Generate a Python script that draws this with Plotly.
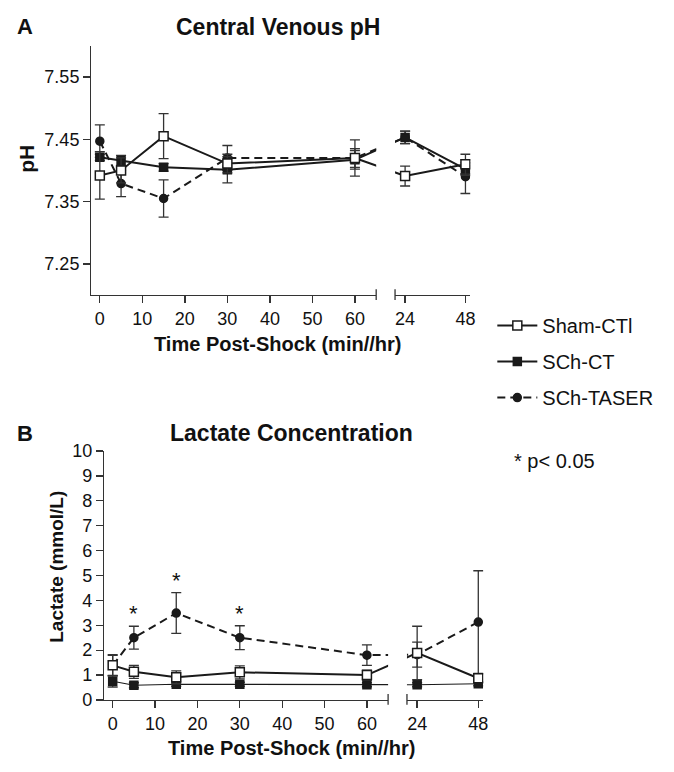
import plotly.graph_objects as go

W, H = 674, 772

# ---------------- data ----------------
min_t = [0, 5, 15, 30, 60]
hr_t = [24, 48]
min_ticks = [0, 10, 20, 30, 40, 50, 60]
hr_ticks = [24, 48]

series_names = ["Sham-CTl", "SCh-CT", "SCh-TASER"]

# Panel A: central venous pH (0,5,15,30,60 min, 24,48 hr)
sham_ph = [7.392, 7.400, 7.455, 7.411, 7.420, 7.391, 7.410]
sham_ph_err = [0.038, 0.020, 0.036, 0.015, 0.029, 0.016, 0.016]
ct_ph = [7.421, 7.416, 7.405, 7.401, 7.417, 7.453, 7.402]
ct_ph_err = [0.005, 0.008, 0.006, 0.021, 0.015, 0.010, 0.010]
tas_ph = [7.447, 7.379, 7.355, 7.420, 7.420, 7.453, 7.390]
tas_ph_err = [0.026, 0.021, 0.030, 0.020, 0.015, 0.010, 0.027]
ph_ticks = [7.25, 7.35, 7.45, 7.55]

# Panel B: lactate (mmol/L)
sham_lac = [1.39, 1.13, 0.91, 1.11, 1.00, 1.89, 0.87]
sham_lac_err = [0.43, 0.26, 0.26, 0.26, 0.20, 1.07, 0.17]
ct_lac = [0.75, 0.59, 0.63, 0.63, 0.61, 0.61, 0.65]
ct_lac_err = [0.23, 0.10, 0.08, 0.08, 0.08, 0.08, 0.08]
tas_lac = [1.39, 2.50, 3.49, 2.50, 1.80, 1.82, 3.13]
tas_lac_err = [0.40, 0.46, 0.82, 0.48, 0.41, 0.50, 2.06]
lac_ticks = list(range(0, 11))
sig_times = [5, 15, 30]  # p < 0.05

# ---------------- layout geometry (pixels) ----------------
A = dict(s1=(92, 379), s2=(398, 474), y=(36.7, 292.7))
B = dict(s1=(105, 391), s2=(410, 487), y=(452.7, 708.3))
R1 = (-2, 65)
R2 = (20, 50)

def px_x(p):
    return p / W

def px_y(p):
    return 1 - p / H

def hr_in_seg1(h, P):
    (a1, b1), (a2, b2) = P["s1"], P["s2"]
    px = a2 + (h - R2[0]) / (R2[1] - R2[0]) * (b2 - a2)
    return R1[0] + (px - a1) / (b1 - a1) * (R1[1] - R1[0])

def min_in_seg2(m, P):
    (a1, b1), (a2, b2) = P["s1"], P["s2"]
    px = a1 + (m - R1[0]) / (R1[1] - R1[0]) * (b1 - a1)
    return R2[0] + (px - a2) / (b2 - a2) * (R2[1] - R2[0])

INK = "#1a1a1a"
AX = "#333333"
FONT = "Liberation Sans, Arial, sans-serif"

fig = go.Figure()

styles = {
    "Sham-CTl": dict(symbol="square", size=9, color="white", lw=2.0, dash="solid"),
    "SCh-CT": dict(symbol="square", size=8, color=INK, lw=2.0, dash="solid"),
    "SCh-TASER": dict(symbol="circle", size=8, color=INK, lw=2.0, dash="8px,5px"),
}

def add_panel(P, xa1, xa2, ya, data, legend, lw_override=None):
    # draw TASER first, Sham last (on top)
    for name in ["SCh-TASER", "SCh-CT", "Sham-CTl"]:
        vals, errs = data[name]
        st = styles[name]
        lw = st["lw"]
        if lw_override and name in lw_override:
            lw = lw_override[name]
        x1 = list(min_t) + [hr_in_seg1(h, P) for h in hr_t]
        x2 = [min_in_seg2(m, P) for m in min_t] + list(hr_t)
        for k, (xs, xa) in enumerate([(x1, xa1), (x2, xa2)]):
            fig.add_trace(go.Scatter(
                x=xs, y=vals, xaxis=xa, yaxis=ya,
                mode="lines+markers", name=name,
                showlegend=(legend and k == 0),
                legendgroup=name,
                legendrank={"Sham-CTl": 1, "SCh-CT": 2, "SCh-TASER": 3}[name],
                line=dict(color=INK, width=lw, dash=st["dash"]),
                marker=dict(symbol=st["symbol"], size=st["size"], color=st["color"],
                            line=dict(color=INK, width=1.5)),
                error_y=dict(type="data", array=errs, arrayminus=errs, visible=True,
                             color=AX, thickness=1.3, width=5),
                cliponaxis=True,
            ))

add_panel(A, "x", "x2", "y",
          {"Sham-CTl": (sham_ph, sham_ph_err), "SCh-CT": (ct_ph, ct_ph_err),
           "SCh-TASER": (tas_ph, tas_ph_err)}, legend=True)
add_panel(B, "x3", "x4", "y2",
          {"Sham-CTl": (sham_lac, sham_lac_err), "SCh-CT": (ct_lac, ct_lac_err),
           "SCh-TASER": (tas_lac, tas_lac_err)}, legend=False,
          lw_override={"SCh-CT": 1.2})

tickfont = dict(family=FONT, size=18, color="#111")
common_x = dict(showline=True, linecolor=AX, linewidth=1.3, ticks="outside", ticklen=7,
                tickwidth=1.3, tickcolor=AX, showgrid=False, zeroline=False,
                tickfont=tickfont, fixedrange=True)
common_y = dict(showline=True, linecolor=AX, linewidth=1.3, ticks="outside", ticklen=7,
                tickwidth=1.3, tickcolor=AX, showgrid=False, zeroline=False,
                tickfont=tickfont, fixedrange=True)

def dom_x(span):
    return [px_x(span[0]), px_x(span[1])]

def dom_y(span):
    return [px_y(span[1]), px_y(span[0])]

fig.update_layout(
    width=W, height=H, margin=dict(l=0, r=0, t=0, b=0),
    paper_bgcolor="white", plot_bgcolor="white",
    font=dict(family=FONT, color="#111"),
    xaxis=dict(domain=dom_x(A["s1"]), range=list(R1), anchor="y",
               tickvals=min_ticks, **common_x),
    xaxis2=dict(domain=dom_x(A["s2"]), range=list(R2), anchor="y",
                tickvals=hr_ticks, **common_x),
    yaxis=dict(domain=dom_y(A["y"]), range=[7.20, 7.60], anchor="x",
               tickvals=ph_ticks, ticktext=[f"{v:.2f}" for v in ph_ticks], **common_y),
    xaxis3=dict(domain=dom_x(B["s1"]), range=list(R1), anchor="y2",
                tickvals=min_ticks, **common_x),
    xaxis4=dict(domain=dom_x(B["s2"]), range=list(R2), anchor="y2",
                tickvals=hr_ticks, **common_x),
    yaxis2=dict(domain=dom_y(B["y"]), range=[0, 10], anchor="x3",
                tickvals=lac_ticks, **common_y),
    showlegend=True,
    legend=dict(x=px_x(496), y=px_y(304), xanchor="left", yanchor="top",
                font=dict(family=FONT, size=20, color="#111"),
                tracegroupgap=7, itemwidth=40, bgcolor="rgba(0,0,0,0)"),
)

# axis-break end caps
shapes = []
for P in (A, B):
    yb = P["y"][1]
    for xp in (P["s1"][1], P["s2"][0]):
        shapes.append(dict(type="line", xref="paper", yref="paper",
                           x0=px_x(xp), x1=px_x(xp), y0=px_y(yb - 6), y1=px_y(yb + 5),
                           line=dict(color=AX, width=1.3)))
fig.update_layout(shapes=shapes)

ann = []
def text(x, y, s, size, bold=False, xanchor="center", angle=0):
    ann.append(dict(x=px_x(x), y=px_y(y), xref="paper", yref="paper", text=(f"<b>{s}</b>" if bold else s),
                    showarrow=False, xanchor=xanchor, yanchor="middle", textangle=angle,
                    font=dict(family=FONT, size=size, color="#111")))

text(15, 17, "A", 22, bold=True, xanchor="left")
text(280, 17, "Central Venous pH", 23, bold=True)
text(26, 153, "pH", 21, bold=True, angle=-90)
text(280, 343, "Time Post-Shock (min//hr)", 20, bold=True)
text(15, 435, "B", 22, bold=True, xanchor="left")
text(294, 434, "Lactate Concentration", 23, bold=True)
text(57, 572, "Lactate (mmol/L)", 19, bold=True, angle=-90)
text(294, 758, "Time Post-Shock (min//hr)", 20, bold=True)
text(516, 463, "* p< 0.05", 20, xanchor="left")

# significance asterisks above TASER error bars
for t in sig_times:
    i = min_t.index(t)
    ann.append(dict(x=t, y=tas_lac[i] + tas_lac_err[i], xref="x3", yref="y2", text="*",
                    showarrow=False, xanchor="center", yanchor="bottom", yshift=-2,
                    font=dict(family=FONT, size=22, color="#111")))

fig.update_layout(annotations=ann)

fig.write_html("out.html",
               config={"displayModeBar": False, "staticPlot": True},
               post_script="document.body.style.margin='0px';document.body.style.overflow='hidden';")
